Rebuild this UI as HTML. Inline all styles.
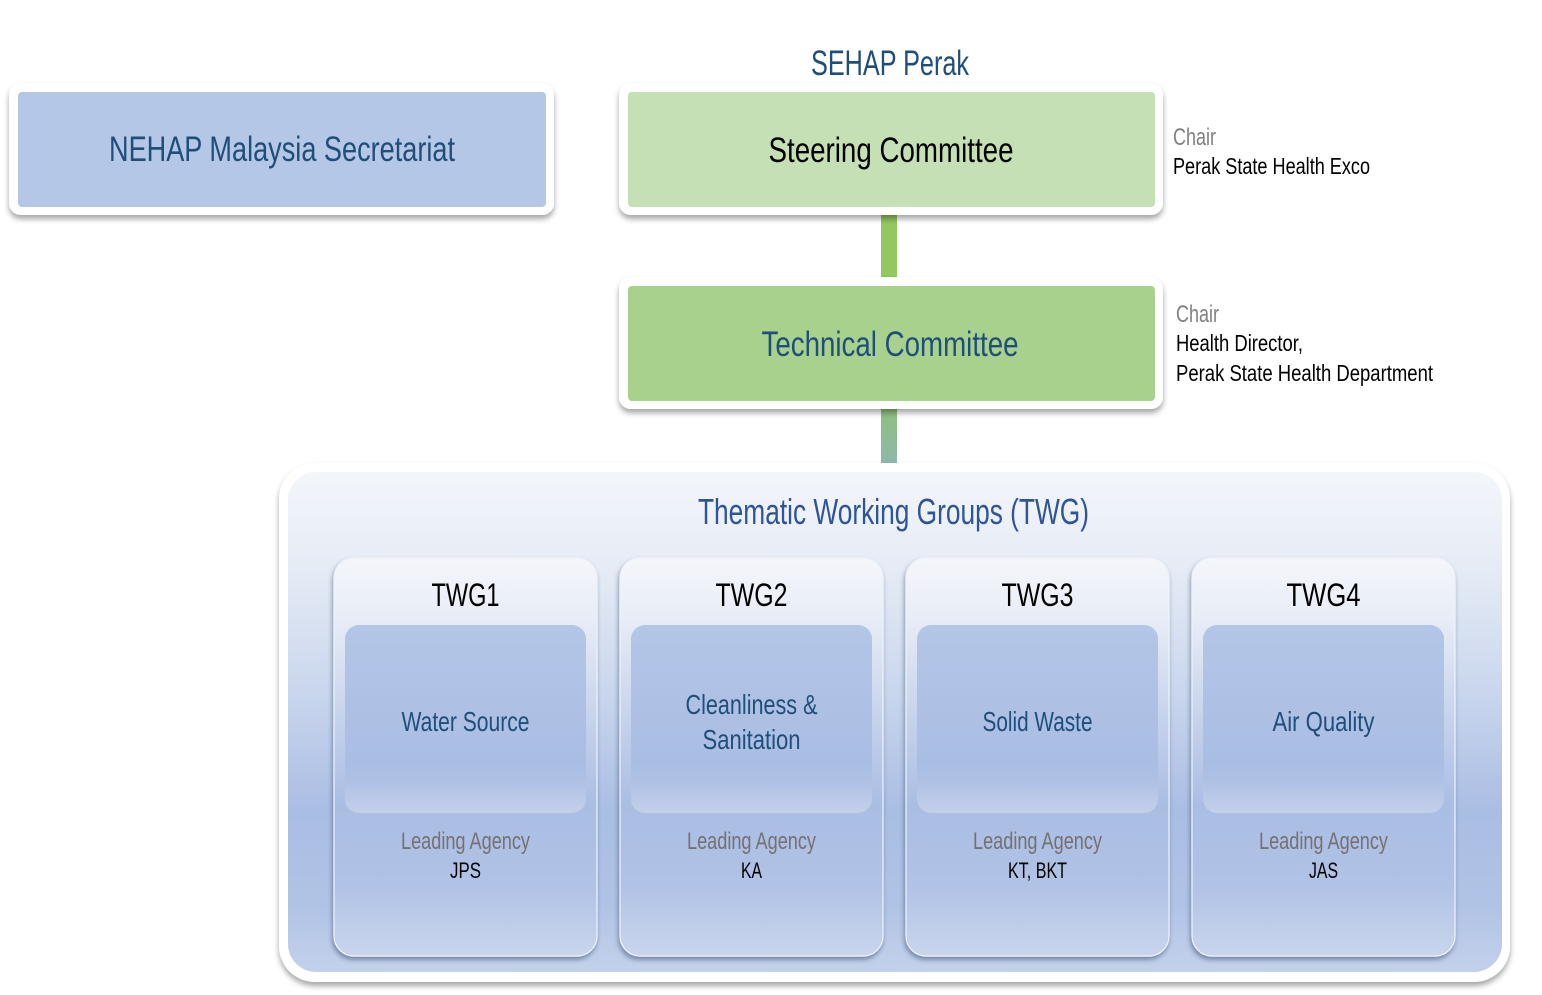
<!DOCTYPE html>
<html>
<head>
<meta charset="utf-8">
<style>
  html,body{margin:0;padding:0;background:#ffffff;}
  svg{display:block;}
  text{font-family:"Liberation Sans Narrow","Liberation Sans",sans-serif;}
</style>
</head>
<body>
<svg width="1542" height="995" viewBox="0 0 1542 995" xmlns="http://www.w3.org/2000/svg">
  <defs>
    <filter id="sh" x="-10%" y="-20%" width="120%" height="150%">
      <feDropShadow dx="0" dy="4" stdDeviation="3" flood-color="#000" flood-opacity="0.35"/>
    </filter>
    <filter id="sh2" x="-10%" y="-10%" width="120%" height="125%">
      <feDropShadow dx="-1" dy="3" stdDeviation="2.5" flood-color="#1f2f50" flood-opacity="0.45"/>
    </filter>
    <linearGradient id="outerG" x1="0" y1="0" x2="0" y2="1">
      <stop offset="0" stop-color="#f3f6fb"/>
      <stop offset="0.2" stop-color="#e5ebf5"/>
      <stop offset="0.45" stop-color="#c8d5ed"/>
      <stop offset="0.68" stop-color="#aabde3"/>
      <stop offset="0.87" stop-color="#b1c3e5"/>
      <stop offset="1" stop-color="#c3d1eb"/>
    </linearGradient>
    <linearGradient id="cardG" x1="0" y1="0" x2="0" y2="1">
      <stop offset="0" stop-color="#f4f6fb"/>
      <stop offset="0.15" stop-color="#e8edf6"/>
      <stop offset="0.38" stop-color="#c9d5ed"/>
      <stop offset="0.62" stop-color="#aabde3"/>
      <stop offset="0.82" stop-color="#b0c2e5"/>
      <stop offset="1" stop-color="#c9d5ed"/>
    </linearGradient>
    <linearGradient id="innerG" x1="0" y1="0" x2="0" y2="1">
      <stop offset="0" stop-color="#b4c6e7"/>
      <stop offset="0.72" stop-color="#aabde3"/>
      <stop offset="0.82" stop-color="#adc0e4"/>
      <stop offset="1" stop-color="#c3d0ea"/>
    </linearGradient>
    <linearGradient id="conn2" x1="0" y1="0" x2="0" y2="1">
      <stop offset="0" stop-color="#90c07a"/>
      <stop offset="1" stop-color="#8cb9ae"/>
    </linearGradient>
  </defs>

  <!-- connectors -->
  <rect x="881" y="212" width="16" height="68" fill="#92c85f"/>
  <rect x="881" y="405" width="16" height="62" fill="url(#conn2)"/>

  <!-- NEHAP -->
  <rect x="9" y="83" width="545" height="132" rx="12" fill="#ffffff" filter="url(#sh)"/>
  <rect x="18" y="92" width="528" height="115" rx="4" fill="#b4c7e7"/>
  <text x="282" y="161" font-size="35" fill="#1f4e79" text-anchor="middle" textLength="346" lengthAdjust="spacingAndGlyphs">NEHAP Malaysia Secretariat</text>

  <!-- SEHAP title -->
  <text x="890" y="75" font-size="35" fill="#1f4e79" text-anchor="middle" textLength="158" lengthAdjust="spacingAndGlyphs">SEHAP Perak</text>

  <!-- Steering -->
  <rect x="619" y="83" width="544" height="132" rx="12" fill="#ffffff" filter="url(#sh)"/>
  <rect x="628" y="92" width="527" height="115" rx="4" fill="#c5e0b4"/>
  <text x="891" y="162" font-size="35" fill="#000000" text-anchor="middle" textLength="245" lengthAdjust="spacingAndGlyphs">Steering Committee</text>

  <!-- Technical -->
  <rect x="619" y="277" width="544" height="132" rx="12" fill="#ffffff" filter="url(#sh)"/>
  <rect x="628" y="286" width="527" height="115" rx="4" fill="#a9d18e"/>
  <text x="890" y="356" font-size="35" fill="#1f4e79" text-anchor="middle" textLength="257" lengthAdjust="spacingAndGlyphs">Technical Committee</text>

  <!-- Chair labels -->
  <text x="1173" y="145" font-size="24" fill="#808080" textLength="43" lengthAdjust="spacingAndGlyphs">Chair</text>
  <text x="1173" y="174" font-size="23" fill="#000000" textLength="197" lengthAdjust="spacingAndGlyphs">Perak State Health Exco</text>
  <text x="1176" y="322" font-size="24" fill="#808080" textLength="43" lengthAdjust="spacingAndGlyphs">Chair</text>
  <text x="1176" y="351" font-size="23" fill="#000000" textLength="127" lengthAdjust="spacingAndGlyphs">Health Director,</text>
  <text x="1176" y="381" font-size="23" fill="#000000" textLength="257" lengthAdjust="spacingAndGlyphs">Perak State Health Department</text>

  <!-- TWG container -->
  <rect x="279" y="463" width="1231" height="519" rx="36" fill="#ffffff" filter="url(#sh)"/>
  <rect x="288" y="472" width="1214" height="500" rx="28" fill="url(#outerG)"/>
  <text x="893.5" y="524" font-size="36" fill="#2f5597" text-anchor="middle" textLength="391" lengthAdjust="spacingAndGlyphs">Thematic Working Groups (TWG)</text>

  <!-- TWG1 -->
  <rect x="334" y="558" width="263" height="398" rx="20" fill="url(#cardG)" stroke="#eef2f9" stroke-width="1.2" filter="url(#sh2)"/>
  <rect x="345" y="625" width="241" height="188" rx="14" fill="url(#innerG)"/>
  <text x="465.5" y="606" font-size="32" fill="#000000" text-anchor="middle" textLength="68" lengthAdjust="spacingAndGlyphs">TWG1</text>
  <text x="465.5" y="731" font-size="28" fill="#1f4e79" text-anchor="middle" textLength="128" lengthAdjust="spacingAndGlyphs">Water Source</text>
  <text x="465.5" y="849" font-size="24" fill="#767171" text-anchor="middle" textLength="129" lengthAdjust="spacingAndGlyphs">Leading Agency</text>
  <text x="465.5" y="878" font-size="22" fill="#000000" text-anchor="middle" textLength="31" lengthAdjust="spacingAndGlyphs">JPS</text>

  <!-- TWG2 -->
  <rect x="620" y="558" width="263" height="398" rx="20" fill="url(#cardG)" stroke="#eef2f9" stroke-width="1.2" filter="url(#sh2)"/>
  <rect x="631" y="625" width="241" height="188" rx="14" fill="url(#innerG)"/>
  <text x="751.5" y="606" font-size="32" fill="#000000" text-anchor="middle" textLength="72" lengthAdjust="spacingAndGlyphs">TWG2</text>
  <text x="751.5" y="714" font-size="28" fill="#1f4e79" text-anchor="middle" textLength="132" lengthAdjust="spacingAndGlyphs">Cleanliness &amp;</text>
  <text x="751.5" y="749" font-size="28" fill="#1f4e79" text-anchor="middle" textLength="98" lengthAdjust="spacingAndGlyphs">Sanitation</text>
  <text x="751.5" y="849" font-size="24" fill="#767171" text-anchor="middle" textLength="129" lengthAdjust="spacingAndGlyphs">Leading Agency</text>
  <text x="751.5" y="878" font-size="22" fill="#000000" text-anchor="middle" textLength="21" lengthAdjust="spacingAndGlyphs">KA</text>

  <!-- TWG3 -->
  <rect x="906" y="558" width="263" height="398" rx="20" fill="url(#cardG)" stroke="#eef2f9" stroke-width="1.2" filter="url(#sh2)"/>
  <rect x="917" y="625" width="241" height="188" rx="14" fill="url(#innerG)"/>
  <text x="1037.5" y="606" font-size="32" fill="#000000" text-anchor="middle" textLength="72" lengthAdjust="spacingAndGlyphs">TWG3</text>
  <text x="1037.5" y="731" font-size="28" fill="#1f4e79" text-anchor="middle" textLength="110" lengthAdjust="spacingAndGlyphs">Solid Waste</text>
  <text x="1037.5" y="849" font-size="24" fill="#767171" text-anchor="middle" textLength="129" lengthAdjust="spacingAndGlyphs">Leading Agency</text>
  <text x="1037.5" y="878" font-size="22" fill="#000000" text-anchor="middle" textLength="59" lengthAdjust="spacingAndGlyphs">KT, BKT</text>

  <!-- TWG4 -->
  <rect x="1192" y="558" width="263" height="398" rx="20" fill="url(#cardG)" stroke="#eef2f9" stroke-width="1.2" filter="url(#sh2)"/>
  <rect x="1203" y="625" width="241" height="188" rx="14" fill="url(#innerG)"/>
  <text x="1323.5" y="606" font-size="32" fill="#000000" text-anchor="middle" textLength="74" lengthAdjust="spacingAndGlyphs">TWG4</text>
  <text x="1323.5" y="731" font-size="28" fill="#1f4e79" text-anchor="middle" textLength="102" lengthAdjust="spacingAndGlyphs">Air Quality</text>
  <text x="1323.5" y="849" font-size="24" fill="#767171" text-anchor="middle" textLength="129" lengthAdjust="spacingAndGlyphs">Leading Agency</text>
  <text x="1323.5" y="878" font-size="22" fill="#000000" text-anchor="middle" textLength="29" lengthAdjust="spacingAndGlyphs">JAS</text>
</svg>
</body>
</html>
